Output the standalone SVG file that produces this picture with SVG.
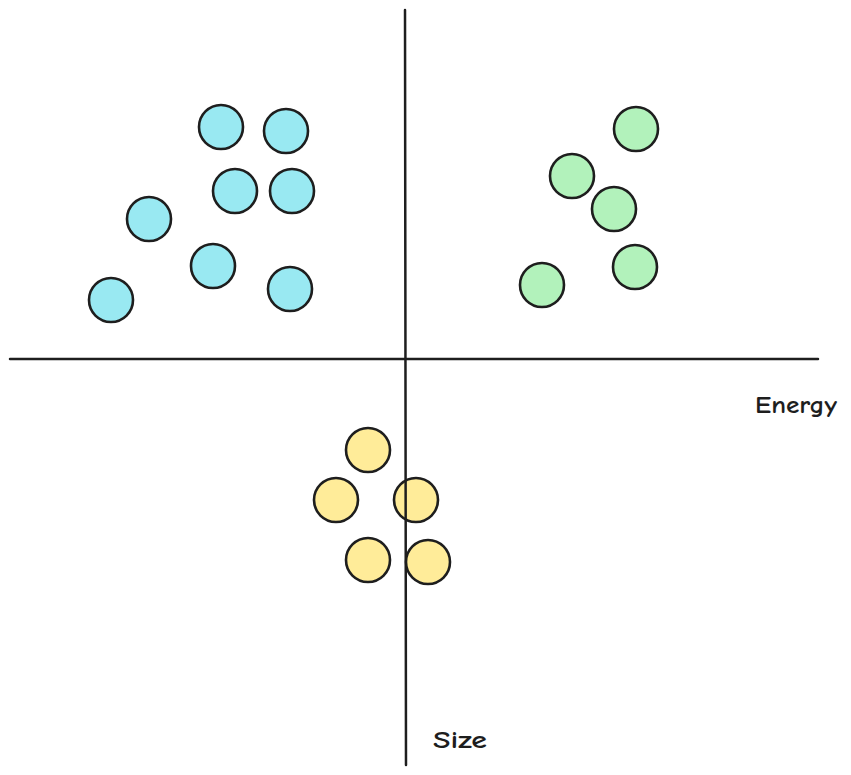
<svg xmlns="http://www.w3.org/2000/svg" width="851" height="775" viewBox="0 0 851 775">
<style>
.dot{stroke:#1e1e1e;stroke-width:2.6}
.b{fill:#99e9f2}
.g{fill:#b2f2bb}
.y{fill:#ffec99}
.axis{stroke:#1e1e1e;stroke-width:2.5;fill:none;stroke-linecap:round}
.lbl{font-family:"Comic Neue","Liberation Sans",sans-serif;font-size:24px;font-weight:700;fill:#1e1e1e}
</style>
<rect width="851" height="775" fill="#ffffff"/>
<g id="blue-cluster">
<circle class="dot b" cx="221" cy="127" r="22"/>
<circle class="dot b" cx="286" cy="131" r="22"/>
<circle class="dot b" cx="235" cy="191" r="22"/>
<circle class="dot b" cx="292" cy="191" r="22"/>
<circle class="dot b" cx="149" cy="219" r="22"/>
<circle class="dot b" cx="213" cy="266" r="22"/>
<circle class="dot b" cx="290" cy="289" r="22"/>
<circle class="dot b" cx="111" cy="300" r="22"/>
</g>
<g id="green-cluster">
<circle class="dot g" cx="636" cy="129" r="22"/>
<circle class="dot g" cx="572" cy="176" r="22"/>
<circle class="dot g" cx="614" cy="209" r="22"/>
<circle class="dot g" cx="635" cy="267" r="22"/>
<circle class="dot g" cx="542" cy="285" r="22"/>
</g>
<g id="yellow-cluster">
<circle class="dot y" cx="368" cy="450" r="22"/>
<circle class="dot y" cx="336" cy="500" r="22"/>
<circle class="dot y" cx="416" cy="500" r="22"/>
<circle class="dot y" cx="368" cy="560" r="22"/>
<circle class="dot y" cx="428" cy="562" r="22"/>
</g>
<g id="axes">
<line class="axis" x1="10" y1="359" x2="818" y2="359"/>
<line class="axis" x1="405" y1="10" x2="406" y2="765"/>
</g>
<g id="labels">
<text class="lbl" x="755" y="413" textLength="82" lengthAdjust="spacingAndGlyphs">Energy</text>
<text class="lbl" x="433" y="748" textLength="54" lengthAdjust="spacingAndGlyphs">Size</text>
</g>
</svg>
